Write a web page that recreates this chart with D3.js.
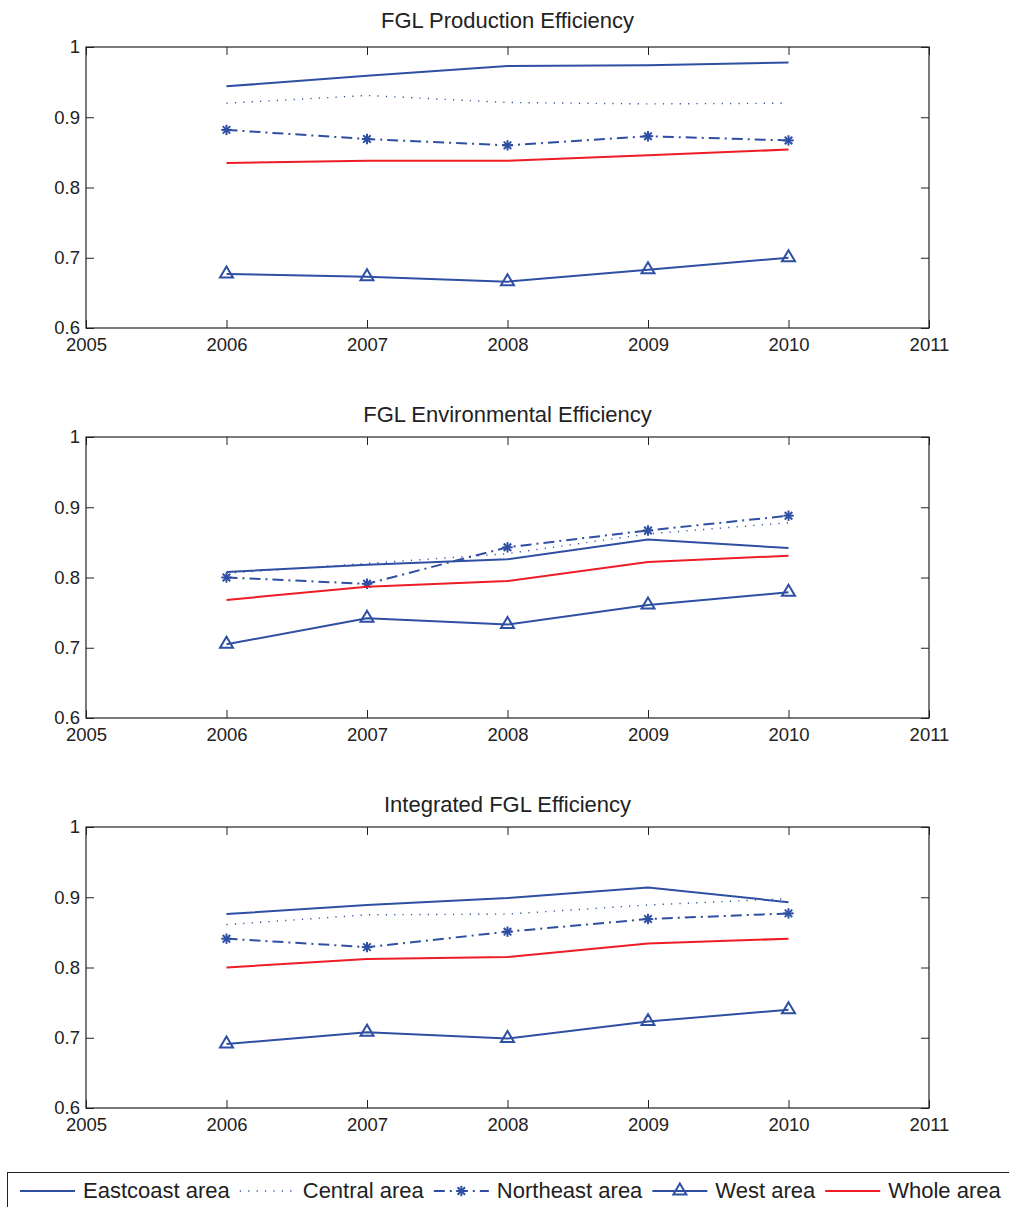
<!DOCTYPE html>
<html>
<head>
<meta charset="utf-8">
<script src="https://cdn.jsdelivr.net/npm/d3@7"></script>
<style>
  html, body { margin: 0; padding: 0; background: #fff; }
  svg { display: block; font-family: "Liberation Sans", Arial, Helvetica, sans-serif; }
</style>
</head>
<body>
<svg id="chart" width="1009" height="1207"></svg>
<script>
// ---------------- data ----------------
const years = [2006, 2007, 2008, 2009, 2010];
const xTicks = [2005, 2006, 2007, 2008, 2009, 2010, 2011];
const yTicks = [0.6, 0.7, 0.8, 0.9, 1];
const yTickLabels = ["0.6", "0.7", "0.8", "0.9", "1"];
const panelTitles = ["FGL Production Efficiency", "FGL Environmental Efficiency", "Integrated FGL Efficiency"];
const seriesNames = ["Eastcoast area", "Central area", "Northeast area", "West area", "Whole area"];

const productionEastcoast = [0.944, 0.959, 0.973, 0.974, 0.978];
const productionCentral   = [0.920, 0.931, 0.921, 0.919, 0.920];
const productionNortheast = [0.882, 0.869, 0.860, 0.873, 0.867];
const productionWest      = [0.677, 0.673, 0.666, 0.683, 0.700];
const productionWhole     = [0.835, 0.838, 0.838, 0.846, 0.854];

const environmentalEastcoast = [0.808, 0.818, 0.826, 0.854, 0.842];
const environmentalCentral   = [0.806, 0.820, 0.834, 0.862, 0.878];
const environmentalNortheast = [0.800, 0.791, 0.843, 0.867, 0.888];
const environmentalWest      = [0.705, 0.742, 0.733, 0.761, 0.779];
const environmentalWhole     = [0.768, 0.787, 0.795, 0.822, 0.831];

const integratedEastcoast = [0.876, 0.889, 0.899, 0.914, 0.893];
const integratedCentral   = [0.861, 0.875, 0.876, 0.889, 0.898];
const integratedNortheast = [0.841, 0.829, 0.851, 0.869, 0.877];
const integratedWest      = [0.691, 0.708, 0.699, 0.723, 0.740];
const integratedWhole     = [0.800, 0.812, 0.815, 0.834, 0.841];

// ---------------- styles ----------------
const BLUE = "#2f4fa3";
const RED = "#ee1c25";
const AXIS = "#222";
const styles = [
  { color: BLUE, dash: null, width: 2, marker: null },
  { color: BLUE, dash: "1.2,7.2", width: 1.4, marker: null },
  { color: BLUE, dash: "11,5,2,5", width: 2, marker: "star" },
  { color: BLUE, dash: null, width: 2, marker: "tri" },
  { color: RED, dash: null, width: 2, marker: null }
];

const panels = [
  { title: panelTitles[0], series: [productionEastcoast, productionCentral, productionNortheast, productionWest, productionWhole] },
  { title: panelTitles[1], series: [environmentalEastcoast, environmentalCentral, environmentalNortheast, environmentalWest, environmentalWhole] },
  { title: panelTitles[2], series: [integratedEastcoast, integratedCentral, integratedNortheast, integratedWest, integratedWhole] }
];
const titleOffsets = [19, 15, 15];

const svg = d3.select("#chart");
const left = 86, right = 929, plotH = 281, firstTop = 47, step = 390;
const x = d3.scaleLinear().domain([2005, 2011]).range([left, right]);

function drawMarker(g, type, cx, cy, color) {
  if (type === "star") {
    const r = 5.2, d = r * 0.72;
    const m = g.append("g").attr("transform", `translate(${cx},${cy})`)
      .attr("stroke", color).attr("stroke-width", 2).attr("stroke-linecap", "butt");
    m.append("line").attr("x1", -r).attr("x2", r).attr("y1", 0).attr("y2", 0);
    m.append("line").attr("x1", 0).attr("x2", 0).attr("y1", -r).attr("y2", r);
    m.append("line").attr("x1", -d).attr("x2", d).attr("y1", -d).attr("y2", d);
    m.append("line").attr("x1", -d).attr("x2", d).attr("y1", d).attr("y2", -d);
  } else if (type === "tri") {
    g.append("path")
      .attr("d", `M${cx},${cy - 7.5} L${cx + 6.5},${cy + 3.5} L${cx - 6.5},${cy + 3.5} Z`)
      .attr("fill", "none").attr("stroke", color).attr("stroke-width", 2).attr("stroke-linejoin", "miter");
  }
}

panels.forEach((p, i) => {
  const top = firstTop + i * step, bottom = top + plotH;
  const y = d3.scaleLinear().domain([0.6, 1]).range([bottom, top]);
  const g = svg.append("g");

  // title
  g.append("text").attr("x", (left + right) / 2).attr("y", top - titleOffsets[i])
    .attr("text-anchor", "middle").attr("font-size", 22).attr("fill", "#222").text(p.title);

  // axes
  const tickFont = 18.5;
  const bAxis = g.append("g").attr("transform", `translate(0,${bottom})`)
    .call(d3.axisBottom(x).tickValues(xTicks).tickFormat(d3.format("d")).tickSizeInner(-8).tickSizeOuter(0).tickPadding(10));
  const tAxis = g.append("g").attr("transform", `translate(0,${top})`)
    .call(d3.axisTop(x).tickValues(xTicks).tickFormat("").tickSizeInner(-8).tickSizeOuter(0));
  const lAxis = g.append("g").attr("transform", `translate(${left},0)`)
    .call(d3.axisLeft(y).tickValues(yTicks).tickFormat((d, k) => yTickLabels[k]).tickSizeInner(-8).tickSizeOuter(0).tickPadding(6));
  const rAxis = g.append("g").attr("transform", `translate(${right},0)`)
    .call(d3.axisRight(y).tickValues(yTicks).tickFormat("").tickSizeInner(-8).tickSizeOuter(0));
  [bAxis, tAxis, lAxis, rAxis].forEach(a => {
    a.select(".domain").remove();
    a.selectAll(".tick line").attr("stroke", AXIS).attr("stroke-width", 1);
    a.selectAll("text").attr("font-size", tickFont).attr("fill", "#222")
      .attr("font-family", '"Liberation Sans", Arial, sans-serif');
  });
  g.append("rect").attr("x", left).attr("y", top).attr("width", right - left).attr("height", plotH)
    .attr("fill", "none").attr("stroke", AXIS).attr("stroke-width", 1.2);

  // lines
  const line = d3.line().x((d, k) => x(years[k])).y(d => y(d));
  p.series.forEach((vals, s) => {
    const st = styles[s];
    g.append("path").datum(vals).attr("d", line)
      .attr("fill", "none").attr("stroke", st.color).attr("stroke-width", st.width)
      .attr("stroke-dasharray", st.dash).attr("stroke-linejoin", "round");
    if (st.marker) vals.forEach((v, k) => drawMarker(g, st.marker, x(years[k]), y(v), st.color));
  });
});

// ---------------- legend ----------------
const lg = svg.append("g");
lg.append("rect").attr("x", 7.5).attr("y", 1172.5).attr("width", 1020).attr("height", 60)
  .attr("fill", "#fff").attr("stroke", AXIS).attr("stroke-width", 1);
let cx = 20;
const ly = 1191, sample = 55;
seriesNames.forEach((name, s) => {
  const st = styles[s];
  lg.append("line").attr("x1", cx).attr("x2", cx + sample).attr("y1", ly).attr("y2", ly)
    .attr("stroke", st.color).attr("stroke-width", st.width).attr("stroke-dasharray", st.dash);
  if (st.marker) drawMarker(lg, st.marker, cx + sample / 2, ly, st.color);
  const t = lg.append("text").attr("x", cx + sample + 8).attr("y", 1198)
    .attr("font-size", 22).attr("fill", "#222").text(name);
  cx = cx + sample + 8 + t.node().getComputedTextLength() + 10;
});
</script>
</body>
</html>
